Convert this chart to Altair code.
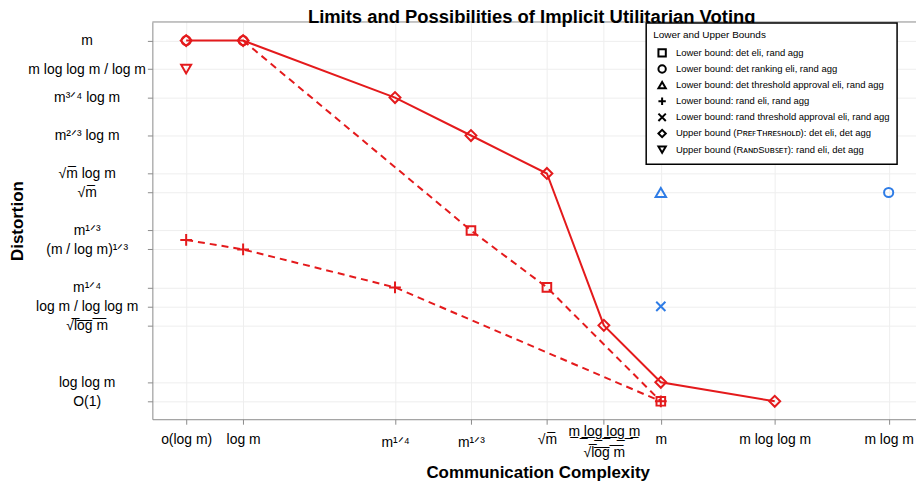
import json
import altair as alt
import pandas as pd

FONT = "Liberation Sans"
RED = "#E41A1C"
BLUE = "#2E7CE6"
GRAY = "#8A8A8A"

title_text = ["Limits and Possibilities of Implicit Utilitarian Voting"]

# ---- axis classes (ordinal ranks of complexity / distortion) ----
x_ticks = [0, 3, 11, 15, 19, 22, 25, 31, 37]
x_labels = ["o(log m)", "log m", "m¹ᐟ⁴", "m¹ᐟ³", "√m̅",
            ["m̲ ̲l̲o̲g̲ ̲l̲o̲g̲ ̲m̲", "√l̅o̅g̅ ̅m̅"], "m", "m log log m", "m log m"]

y_ticks = [0, 1, 4, 5, 6, 8, 9, 11, 12, 14, 16, 17.5, 19]
y_labels = ["O(1)", "log log m", "√l̅o̅g̅ ̅m̅", "log m / log log m", "m¹ᐟ⁴",
            "(m / log m)¹ᐟ³", "m¹ᐟ³", "√m̅", "√m̅ log m", "m²ᐟ³ log m",
            "m³ᐟ⁴ log m", "m log log m / log m", "m"]

# ---- series ----
series_names = [
    "Lower bound: det eli, rand agg",
    "Lower bound: det ranking eli, rand agg",
    "Lower bound: det threshold approval eli, rand agg",
    "Lower bound: rand eli, rand agg",
    "Lower bound: rand threshold approval eli, rand agg",
    "Upper bound (PʀᴇꜰTʜʀᴇꜱʜᴏʟᴅ): det eli, det agg",
    "Upper bound (RᴀɴᴅSᴜʙꜱᴇᴛ): rand eli, det agg",
]
series_shapes = ["square", "circle", "triangle-up", "M-1,0L1,0M0,-1L0,1",
                 "M-1,-1L1,1M-1,1L1,-1", "diamond", "triangle-down"]
series_sizes = [75, 85, 110, 140, 85, 120, 100]

# upper bound PrefThreshold (solid line)
pref_x = [0, 3, 11, 15, 19, 22, 25, 31]
pref_y = [19, 19, 16, 14, 12, 4, 1, 0]
# lower bound det eli, rand agg (dashed line)
det_line_x = [3, 15, 19, 25]
det_line_y = [19, 9, 6, 0]
det_pt_x = [15, 19, 25]
det_pt_y = [9, 6, 0]
# lower bound rand eli, rand agg (dashed line)
rand_x = [0, 3, 11, 25]
rand_y = [8.5, 8, 6, 0]
# lower bound det ranking eli
rank_x = [0, 3, 37]
rank_y = [19, 19, 11]
rank_tone = [RED, RED, BLUE]
# lower bound det threshold approval
thr_x = [25]
thr_y = [11]
# lower bound rand threshold approval
rthr_x = [25]
rthr_y = [5]
# upper bound RandSubset
rs_x = [0]
rs_y = [17.5]

# ---- build tables ----
lines = pd.concat([
    pd.DataFrame({"x": pref_x, "y": pref_y, "line": "pref", "dash": "solid"}),
    pd.DataFrame({"x": det_line_x, "y": det_line_y, "line": "det", "dash": "dashed"}),
    pd.DataFrame({"x": rand_x, "y": rand_y, "line": "rand", "dash": "dashed"}),
], ignore_index=True)

def pts(xs, ys, idx, tones):
    return pd.DataFrame({"x": xs, "y": ys, "series": series_names[idx],
                         "tone": tones, "sz": series_sizes[idx]})

points = pd.concat([
    pts(det_pt_x, det_pt_y, 0, RED),
    pts(rank_x, rank_y, 1, rank_tone),
    pts(thr_x, thr_y, 2, BLUE),
    pts(rand_x, rand_y, 3, RED),
    pts(rthr_x, rthr_y, 4, BLUE),
    pts(pref_x, pref_y, 5, RED),
    pts(rs_x, rs_y, 6, RED),
], ignore_index=True)


def label_expr(values, labels):
    parts = []
    for v, lab in zip(values, labels):
        parts.append(f"datum.value == {v} ? {json.dumps(lab, ensure_ascii=False)} : ")
    return "".join(parts) + "''"


xscale = alt.Scale(domain=[-1.78, 38.44], nice=False, zero=False)
yscale = alt.Scale(domain=[-0.944, 19.98], nice=False, zero=False)

x_axis = alt.Axis(
    values=x_ticks, labelExpr=label_expr(x_ticks, x_labels),
    grid=True, gridColor="#EEEEEE", gridWidth=1,
    domainColor=GRAY, tickColor=GRAY, tickSize=5,
    labelFont=FONT, labelFontSize=14, labelColor="black",
    labelBaseline="middle",
    labelPadding={"condition": [
        {"test": "datum.value == 22", "value": 7},
        {"test": "datum.value == 11 || datum.value == 15", "value": 18},
    ], "value": 15},
    labelLineHeight=21,
    labelOverlap=False, labelFlush=False,
    title="Communication Complexity", titleFont=FONT, titleFontSize=17,
    titleFontWeight="bold", titleColor="black",
    titleX=387, titleY=54, titleBaseline="middle", titleAlign="center",
)
y_axis = alt.Axis(
    values=y_ticks, labelExpr=label_expr(y_ticks, y_labels),
    grid=True, gridColor="#EEEEEE", gridWidth=1,
    domainColor=GRAY, tickColor=GRAY, tickSize=5,
    labelFont=FONT, labelFontSize=14, labelColor="black",
    labelAlign="center", labelBaseline="middle", labelPadding=61,
    labelOverlap=False, labelFlush=False,
    title="Distortion", titleFont=FONT, titleFontSize=17,
    titleFontWeight="bold", titleColor="black",
    titleX=-135, titleY=199.5, titleAngle=270, titleBaseline="middle", titleAlign="center",
)

X = alt.X("x:Q", scale=xscale, axis=x_axis)
Y = alt.Y("y:Q", scale=yscale, axis=y_axis)

solid = alt.Chart(lines).transform_filter("datum.dash == 'solid'").mark_line(
    color=RED, strokeWidth=2
).encode(x=X, y=Y, detail="line:N")

dashed = alt.Chart(lines).transform_filter("datum.dash == 'dashed'").mark_line(
    color=RED, strokeWidth=2, strokeDash=[7, 5]
).encode(x=X, y=Y, detail="line:N")

marks = alt.Chart(points).mark_point(filled=False, strokeWidth=2, opacity=1).encode(
    x=X, y=Y,
    shape=alt.Shape(
        "series:N",
        scale=alt.Scale(domain=series_names, range=series_shapes),
        legend=alt.Legend(
            title="Lower and Upper Bounds", orient="none", legendX=496, legendY=1,
            strokeColor="black", fillColor="white",
            padding=7, cornerRadius=0,
            titleFont=FONT, titleFontSize=10, titleFontWeight="normal",
            titleColor="black", titlePadding=8,
            labelFont=FONT, labelFontSize=9.5, labelColor="black", labelLimit=400,
            labelOffset=9, symbolSize=55, symbolStrokeWidth=2, symbolOffset=4,
            symbolStrokeColor="black",
        ),
    ),
    color=alt.Color("tone:N", scale=None),
    size=alt.Size("sz:Q", scale=None),
)

frame_top = alt.Chart(pd.DataFrame({"edge": ["top"]})).mark_rule(
    color=GRAY, strokeWidth=1
).encode(y=alt.value(0))

title_mark = alt.Chart(pd.DataFrame({"t": title_text})).mark_text(
    font=FONT, fontSize=18.5, fontWeight="bold", color="black",
    align="center", baseline="alphabetic",
).encode(text="t:N", x=alt.value(381), y=alt.value(0.8))

chart = alt.layer(frame_top, solid, dashed, marks, title_mark).properties(
    width=767, height=399,
    padding={"left": 145, "top": 13, "right": 0, "bottom": 62},
    autosize=alt.AutoSizeParams(type="none"),
    background="white",
).configure_view(stroke=None).configure_legend(rowPadding=0.2, strokeWidth=1.5
).configure_axis(labelOverlap=False)

chart.save("out.html", embed_options={"renderer": "svg", "actions": False})
